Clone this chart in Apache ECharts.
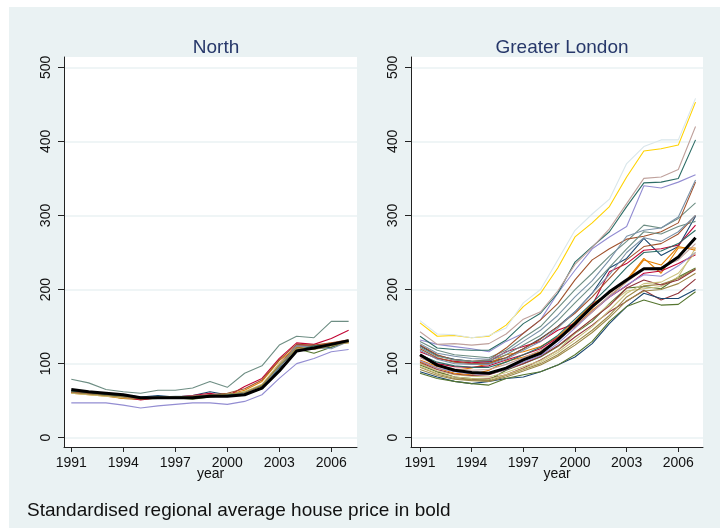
<!DOCTYPE html>
<html>
<head>
<meta charset="utf-8">
<script src="https://cdn.jsdelivr.net/npm/echarts@6/dist/echarts.min.js"></script>
<style>
  html, body { margin: 0; padding: 0; background: #ffffff; }
  #chart { width: 720px; height: 530px; }
</style>
</head>
<body>
<div id="chart"></div>
<script>
// Years covered by the house price index
const years = [1991, 1992, 1993, 1994, 1995, 1996, 1997, 1998, 1999, 2000, 2001, 2002, 2003, 2004, 2005, 2006, 2007];
const yTicks = [0, 100, 200, 300, 400, 500];
const xTicks = [1991, 1994, 1997, 2000, 2003, 2006];

// North: standardised regional average (bold) and district series
const northAvg = [65, 62, 60, 58, 54, 54, 54, 54, 56, 56, 58, 67, 90, 117, 121, 126, 131];
const northDistricts = [
  [62, 60, 58, 58, 55, 57, 55, 57, 62, 58, 58, 66, 95, 122, 120, 122, 131],
  [61, 59, 57, 55, 53, 54, 55, 56, 58, 58, 60, 70, 100, 124, 124, 127, 130],
  [63, 60, 57, 53, 52, 53, 54, 52, 55, 57, 62, 70, 98, 120, 114, 122, 130],
  [60, 58, 56, 53, 52, 54, 55, 56, 57, 58, 64, 76, 104, 122, 123, 128, 128],
  [79, 74, 65, 62, 60, 64, 64, 67, 76, 68, 87, 97, 125, 137, 135, 157, 157],
  [61, 60, 58, 55, 51, 54, 55, 57, 60, 56, 69, 80, 107, 128, 126, 134, 145],
  [47, 47, 47, 44, 40, 43, 45, 47, 47, 45, 49, 58, 80, 100, 107, 116, 119],
  [60, 58, 56, 54, 53, 54, 55, 55, 56, 58, 62, 72, 100, 120, 122, 126, 128],
  [62, 60, 58, 56, 52, 54, 55, 56, 58, 60, 66, 78, 105, 126, 125, 128, 132],
  [64, 62, 59, 57, 54, 55, 56, 56, 57, 58, 60, 68, 96, 124, 122, 120, 130],
  [63, 61, 58, 56, 54, 55, 55, 55, 57, 58, 59, 67, 92, 118, 124, 125, 131],
  [61, 59, 57, 55, 53, 55, 55, 56, 57, 59, 61, 71, 97, 121, 119, 124, 129]
];

// Greater London: standardised regional average (bold) and borough series
const londonAvg = [112, 98, 91, 88, 87, 94, 105, 114, 132, 154, 177, 197, 213, 228, 228, 244, 270];
const londonBoroughs = [
  [124, 111, 106, 103, 102, 108, 120, 134, 150, 170, 195, 229, 242, 269, 246, 258, 299],
  [100, 89, 82, 78, 80, 85, 94, 105, 118, 136, 152, 170, 184, 199, 186, 195, 214],
  [98, 89, 82, 80, 78, 91, 100, 109, 123, 141, 157, 181, 202, 204, 201, 217, 229],
  [105, 96, 91, 94, 100, 112, 116, 123, 136, 157, 181, 195, 213, 242, 222, 256, 256],
  [130, 118, 112, 110, 108, 118, 135, 150, 175, 200, 222, 245, 265, 287, 283, 296, 317],
  [116, 107, 103, 101, 103, 116, 123, 130, 145, 154, 179, 224, 235, 253, 255, 260, 287],
  [132, 126, 123, 120, 116, 130, 141, 159, 195, 226, 255, 271, 285, 340, 337, 345, 355],
  [100, 90, 85, 83, 82, 88, 96, 104, 118, 141, 160, 180, 198, 201, 204, 217, 256],
  [125, 112, 105, 103, 105, 121, 141, 159, 181, 213, 240, 255, 268, 272, 278, 290, 345],
  [127, 114, 110, 107, 106, 115, 130, 145, 165, 190, 212, 240, 272, 280, 283, 298, 348],
  [137, 121, 119, 118, 118, 132, 154, 168, 195, 237, 258, 278, 312, 344, 345, 350, 402],
  [95, 86, 80, 78, 77, 84, 92, 100, 112, 128, 145, 165, 190, 205, 207, 215, 228],
  [143, 126, 127, 125, 127, 140, 160, 170, 198, 234, 257, 282, 316, 350, 352, 362, 420],
  [155, 137, 138, 135, 137, 152, 177, 195, 229, 271, 290, 312, 352, 387, 390, 395, 453],
  [158, 140, 139, 135, 138, 148, 182, 200, 240, 280, 302, 322, 370, 393, 402, 402, 458],
  [89, 82, 76, 73, 76, 80, 82, 89, 98, 109, 127, 154, 177, 195, 188, 188, 200],
  [102, 92, 86, 84, 85, 92, 100, 110, 124, 142, 160, 178, 202, 213, 206, 213, 227],
  [87, 80, 76, 73, 71, 80, 85, 89, 98, 112, 130, 157, 177, 186, 179, 180, 197],
  [103, 94, 87, 85, 91, 103, 109, 116, 132, 150, 172, 190, 211, 240, 233, 258, 253],
  [122, 110, 105, 103, 104, 112, 125, 138, 158, 182, 205, 230, 255, 278, 275, 285, 292],
  [110, 100, 96, 95, 97, 105, 112, 120, 135, 150, 170, 190, 205, 222, 225, 235, 247],
  [104, 94, 89, 86, 86, 92, 102, 111, 127, 148, 170, 190, 206, 220, 218, 232, 250],
  [96, 87, 82, 80, 79, 85, 93, 102, 115, 132, 150, 172, 195, 208, 210, 222, 250],
  [120, 108, 102, 100, 100, 108, 120, 133, 150, 168, 190, 215, 240, 258, 262, 275, 300],
  [118, 106, 100, 99, 99, 106, 118, 130, 148, 170, 195, 220, 250, 270, 265, 278, 300],
  [112, 102, 97, 95, 95, 102, 112, 122, 138, 160, 182, 205, 230, 250, 252, 262, 280],
  [92, 84, 79, 77, 76, 82, 90, 98, 110, 125, 142, 162, 185, 198, 200, 208, 222],
  [108, 98, 93, 91, 92, 99, 108, 118, 132, 150, 170, 192, 210, 228, 230, 240, 262]
];

// Line colours, cycled in series order
const palette = ['#1a476f', '#90353b', '#55752f', '#e37e00', '#6e8e84', '#c10534', '#938dd2',
  '#cac27e', '#a0522d', '#7b92a8', '#2d6d66', '#9c8847', '#bfa19c', '#ffd200', '#d9e6eb'];

const FONT = "'Liberation Sans', Arial, sans-serif";
const panelBg = '#eaf2f3';

const grids = [
  { left: 64, top: 57, width: 293, height: 390 },
  { left: 411, top: 57, width: 292, height: 390 }
];
const xRanges = [[1990.579, 2007.483], [1990.477, 2007.434]];

function makeX(i) {
  return {
    type: 'value', gridIndex: i, min: xRanges[i][0], max: xRanges[i][1],
    name: 'year', nameLocation: 'middle', nameGap: 20, nameMoveOverlap: false,
    nameTextStyle: { fontFamily: FONT, fontSize: 14, color: '#111' },
    axisLine: { onZero: false, lineStyle: { color: '#222', width: 1 } },
    axisTick: { customValues: xTicks, length: 5, lineStyle: { color: '#222' } },
    axisLabel: { customValues: xTicks, margin: 9, fontFamily: FONT, fontSize: 14, color: '#111',
      formatter: v => String(Math.round(v)) },
    splitLine: { show: false }
  };
}
function makeY(i) {
  return {
    type: 'value', gridIndex: i, min: -12.55, max: 513.9,
    axisLine: { show: true, onZero: false, lineStyle: { color: '#222', width: 1 } },
    axisTick: { show: true, customValues: yTicks, length: 6, lineStyle: { color: '#222' } },
    axisLabel: { customValues: yTicks, rotate: 90, margin: 11, fontFamily: FONT, fontSize: 14, color: '#111' },
    splitLine: { show: true, lineStyle: { color: panelBg, width: 1.5 } }
  };
}

function toPoints(vals) { return years.map((y, k) => [y, vals[k]]); }

const series = [];
function addLines(list, gi) {
  list.forEach((vals, k) => {
    series.push({
      type: 'line', xAxisIndex: gi, yAxisIndex: gi, data: toPoints(vals),
      symbol: 'none', silent: true, z: 2,
      lineStyle: { width: 1.1, color: palette[k % palette.length] }
    });
  });
}
addLines(northDistricts, 0);
addLines(londonBoroughs, 1);
[northAvg, londonAvg].forEach((vals, gi) => {
  series.push({
    type: 'line', xAxisIndex: gi, yAxisIndex: gi, data: toPoints(vals),
    symbol: 'none', silent: true, z: 3,
    lineStyle: { width: 3, color: '#000000' }
  });
});

const chart = echarts.init(document.getElementById('chart'), null, { renderer: 'canvas' });
chart.setOption({
  animation: false,
  backgroundColor: '#ffffff',
  graphic: [
    { type: 'rect', z: -10, shape: { x: 9, y: 7, width: 711, height: 521 }, style: { fill: panelBg } },
    { type: 'rect', z: -9, shape: { x: 64, y: 57, width: 293, height: 390 }, style: { fill: '#ffffff' } },
    { type: 'rect', z: -9, shape: { x: 411, y: 57, width: 292, height: 390 }, style: { fill: '#ffffff' } },
    { type: 'text', x: 27, y: 511, style: { text: 'Standardised regional average house price in bold',
      font: '19px ' + FONT, fill: '#111', textVerticalAlign: 'middle' } }
  ],
  title: [
    { text: 'North', left: 211, top: 33, textAlign: 'center',
      textStyle: { fontFamily: FONT, fontSize: 19, fontWeight: 'normal', color: '#27386a' } },
    { text: 'Greater London', left: 557, top: 33, textAlign: 'center',
      textStyle: { fontFamily: FONT, fontSize: 19, fontWeight: 'normal', color: '#27386a' } }
  ],
  grid: grids,
  xAxis: [makeX(0), makeX(1)],
  yAxis: [makeY(0), makeY(1)],
  series: series
});
</script>
</body>
</html>
